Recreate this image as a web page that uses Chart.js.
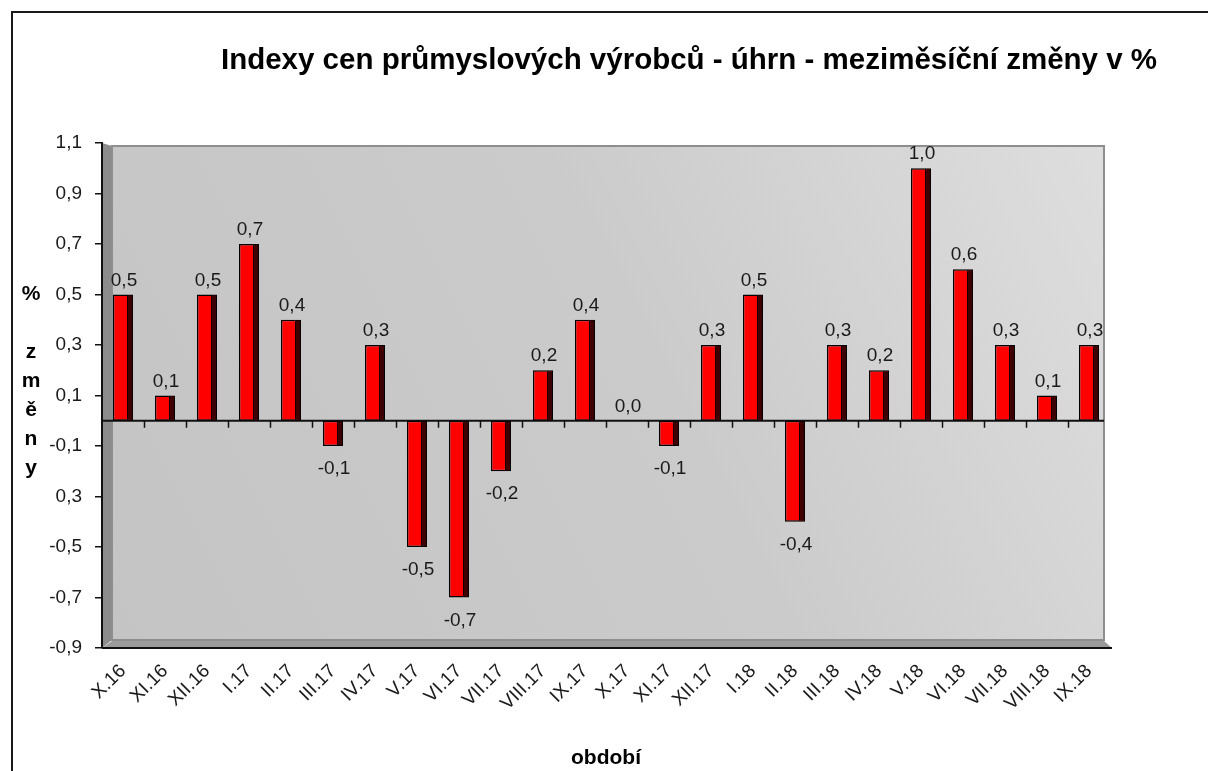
<!DOCTYPE html>
<html>
<head>
<meta charset="utf-8">
<script src="https://cdn.jsdelivr.net/npm/chart.js@4.4.1/dist/chart.umd.min.js"></script>
<style>
  html, body { margin: 0; padding: 0; background: #fff; }
  #wrap { position: relative; width: 1208px; height: 771px; }
</style>
</head>
<body>
<div id="wrap"><canvas id="ppi" width="1208" height="771"></canvas></div>
<script>
// data
const categories = ['X.16', 'XI.16', 'XII.16', 'I.17', 'II.17', 'III.17', 'IV.17', 'V.17', 'VI.17',
  'VII.17', 'VIII.17', 'IX.17', 'X.17', 'XI.17', 'XII.17', 'I.18', 'II.18', 'III.18', 'IV.18',
  'V.18', 'VI.18', 'VII.18', 'VIII.18', 'IX.18'];
const changes = [0.5, 0.1, 0.5, 0.7, 0.4, -0.1, 0.3, -0.5, -0.7, -0.2, 0.2, 0.4, 0.0, -0.1,
  0.3, 0.5, -0.4, 0.3, 0.2, 1.0, 0.6, 0.3, 0.1, 0.3];
const yTickValues = [-0.9, -0.7, -0.5, -0.3, -0.1, 0.1, 0.3, 0.5, 0.7, 0.9, 1.1];
// the original shows "0,3" instead of "-0,3"
const yTickLabels = ['-0,9', '-0,7', '-0,5', '0,3', '-0,1', '0,1', '0,3', '0,5', '0,7', '0,9', '1,1'];
const yTitleLetters = ['%', '', 'z', 'm', 'ě', 'n', 'y'];
const chartTitle = 'Indexy cen průmyslových výrobců - úhrn - meziměsíční změny v %';
const xTitle = 'období';

const FONT = "'Liberation Sans', Arial, sans-serif";
const TEXT = '#1a1a1a';

// fake Excel 3D walls behind the bars
const wall3d = {
  id: 'wall3d',
  beforeDraw(chart) {
    const { ctx, chartArea: a } = chart;
    const d = 10;
    ctx.save();
    // outer frame (only top and left visible)
    ctx.strokeStyle = '#1a1a1a';
    ctx.lineWidth = 2;
    ctx.beginPath();
    ctx.moveTo(12, 771); ctx.lineTo(12, 12); ctx.lineTo(1208, 12);
    ctx.stroke();

    // side wall
    ctx.fillStyle = '#8c8c8c';
    ctx.beginPath();
    ctx.moveTo(a.left, a.top);
    ctx.lineTo(a.left + d, a.top + 3);
    ctx.lineTo(a.left + d, a.bottom - 8);
    ctx.lineTo(a.left, a.bottom);
    ctx.closePath();
    ctx.fill();

    // back wall
    const g = ctx.createLinearGradient(a.left, a.bottom, a.right, a.top);
    g.addColorStop(0, '#c4c4c4');
    g.addColorStop(0.55, '#cbcbcb');
    g.addColorStop(1, '#dedede');
    ctx.fillStyle = g;
    ctx.fillRect(a.left + d, a.top + 3, a.right - a.left - d - 6, a.bottom - a.top - 11);
    ctx.strokeStyle = '#8e8e8e';
    ctx.lineWidth = 2;
    ctx.strokeRect(a.left + d, a.top + 3, a.right - a.left - d - 6, a.bottom - a.top - 11);

    // floor
    ctx.fillStyle = '#9a9a9a';
    ctx.beginPath();
    ctx.moveTo(a.left + d, a.bottom - 7);
    ctx.lineTo(a.right - 6, a.bottom - 7);
    ctx.lineTo(a.right + 2, a.bottom);
    ctx.lineTo(a.left, a.bottom);
    ctx.closePath();
    ctx.fill();
    ctx.strokeStyle = '#111';
    ctx.lineWidth = 2;
    ctx.beginPath();
    ctx.moveTo(a.left, a.bottom);
    ctx.lineTo(a.right + 2, a.bottom);
    ctx.stroke();
    ctx.restore();
  },
  beforeDatasetsDraw(chart) {
    // zero line with category ticks
    const { ctx, chartArea: a, scales: { x, y } } = chart;
    const y0 = y.getPixelForValue(0);
    const step = x.getPixelForValue(1) - x.getPixelForValue(0);
    ctx.save();
    ctx.strokeStyle = '#111';
    ctx.lineWidth = 2;
    ctx.beginPath();
    ctx.moveTo(a.left, y0);
    ctx.lineTo(a.right - 6, y0);
    ctx.stroke();
    ctx.lineWidth = 1.5;
    ctx.beginPath();
    for (let i = 1; i < categories.length; i++) {
      const px = Math.round(x.getPixelForValue(i) - step / 2) + 0.5;
      ctx.moveTo(px, y0);
      ctx.lineTo(px, y0 + 7);
    }
    ctx.stroke();
    ctx.restore();
  },
  afterDatasetsDraw(chart) {
    const { ctx } = chart;
    const meta = chart.getDatasetMeta(0);
    ctx.save();
    meta.data.forEach((bar, i) => {
      const v = changes[i];
      const p = bar.getProps(['x', 'y', 'base', 'width'], true);
      const top = Math.min(p.y, p.base), bottom = Math.max(p.y, p.base);
      if (bottom - top > 2) {
        // darker right face
        const r = p.x + p.width / 2 - 1;
        ctx.fillStyle = '#3c0000';
        ctx.fillRect(r - 4, top + 1, 4, bottom - top - 2);
        ctx.strokeStyle = '#000';
        ctx.lineWidth = 1;
        ctx.beginPath();
        ctx.moveTo(r - 4.5, top + 1);
        ctx.lineTo(r - 4.5, bottom - 1);
        ctx.stroke();
      }
      // value label
      ctx.fillStyle = TEXT;
      ctx.font = '19px ' + FONT;
      ctx.textAlign = 'center';
      ctx.textBaseline = 'middle';
      const txt = v.toFixed(1).replace('.', ',');
      const ly = v >= 0 ? p.y - 14 : p.y + 23;
      ctx.fillText(txt, p.x + 1, ly);
    });
    ctx.restore();
  },
  afterDraw(chart) {
    const { ctx } = chart;
    ctx.save();
    ctx.fillStyle = '#000';
    ctx.textAlign = 'center';
    ctx.textBaseline = 'middle';
    ctx.font = 'bold 29.5px ' + FONT;
    ctx.fillText(chartTitle, 689, 61);
    ctx.font = 'bold 21px ' + FONT;
    yTitleLetters.forEach((ch, i) => ctx.fillText(ch, 31, 294 + i * 29));
    ctx.restore();
  }
};

new Chart(document.getElementById('ppi'), {
  type: 'bar',
  data: {
    labels: categories,
    datasets: [{
      data: changes,
      backgroundColor: '#ff0000',
      borderColor: '#000',
      borderWidth: 1.5,
      borderSkipped: false,
      barPercentage: 0.48,
      categoryPercentage: 1.0
    }]
  },
  options: {
    responsive: false,
    animation: false,
    layout: { padding: { top: 143, right: 98, bottom: 0, left: 0 } },
    plugins: {
      legend: { display: false },
      tooltip: { enabled: false },
      title: { display: false }
    },
    scales: {
      x: {
        offset: true,
        grid: { display: false, drawTicks: false },
        border: { display: false },
        ticks: {
          autoSkip: false,
          minRotation: 45,
          maxRotation: 45,
          padding: 12,
          color: TEXT,
          font: { family: FONT, size: 19 }
        },
        title: {
          display: true,
          text: xTitle,
          color: '#000',
          padding: { top: 0, bottom: 0 },
          font: { family: FONT, size: 21, weight: 'bold' }
        },
        afterFit(scale) { scale.height = 123; }
      },
      y: {
        min: -0.9,
        max: 1.1,
        grid: { drawOnChartArea: false, tickLength: 7, color: '#111', lineWidth: 1.5 },
        border: { display: true, color: '#111', width: 2 },
        afterBuildTicks(scale) {
          scale.ticks = yTickValues.map(v => ({ value: v }));
        },
        ticks: {
          padding: 13,
          color: TEXT,
          font: { family: FONT, size: 19 },
          callback(value, index) { return yTickLabels[index]; }
        },
        afterFit(scale) { scale.width = 102; }
      }
    }
  },
  plugins: [wall3d]
});
</script>
</body>
</html>
